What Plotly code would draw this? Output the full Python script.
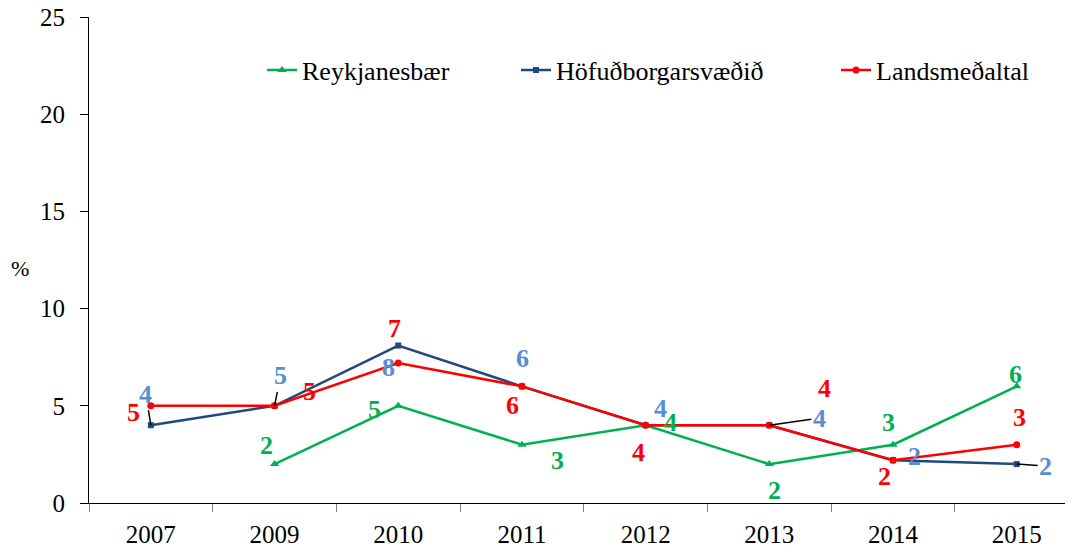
import plotly.graph_objects as go

years = ["2007", "2009", "2010", "2011", "2012", "2013", "2014", "2015"]
reykjanesbaer = [None, 2.0, 5.0, 3.0, 4.0, 2.0, 3.0, 6.0]
hofudborgarsvaedid = [4.0, 5.0, 8.1, 6.0, 4.0, 4.0, 2.2, 2.0]
landsmedaltal = [5.0, 5.0, 7.2, 6.0, 4.0, 4.0, 2.2, 3.0]

FONT = "Liberation Serif"

# label offsets in px from each point: (dx, dy up, leader line)
offsets_green = [None, (-8, 19, False), (-24, -4, False), (36, -16, False), (25, 3, False),
                 (5, -26, False), (-5, 22, False), (-1, 12, False)]
offsets_blue = [(-5, 31, True), (6, 30, True), (-10, -22, False), (1, 28, False), (15, 17, False),
                (50, 7, True), (21, 4, False), (29, -2, True)]
offsets_red = [(-17, -7, False), (35, 14, False), (-4, 35, False), (-9, -19, False), (-7, -27, False),
               (55, 37, False), (-9, -16, False), (3, 27, False)]

series = [
    ("Reykjanesbær", reykjanesbaer, "#00B050", "#00B050", "triangle-up", 8, offsets_green, "legend", 262),
    ("Höfuðborgarsvæðið", hofudborgarsvaedid, "#1F497D", "#558ED5", "square", 6, offsets_blue, "legend2", 516),
    ("Landsmeðaltal", landsmedaltal, "#FF0000", "#FF0000", "circle", 7, offsets_red, "legend3", 836),
]

# the page puts the plot 8px in from the top-left corner
PAGE = 8
W, H = 1073 - PAGE, 549 - PAGE
L, T, B = 89 - PAGE, 17 - PAGE, 46

fig = go.Figure()
annotations = []
for name, vals, color, label_color, symbol, msize, offs, leg, _ in series:
    fig.add_trace(go.Scatter(
        x=years, y=vals, name=name, mode="lines+markers",
        line=dict(color=color, width=2.5),
        marker=dict(symbol=symbol, size=msize, color=color),
        legend=leg, showlegend=True,
    ))
    for i, (v, off) in enumerate(zip(vals, offs)):
        if v is None:
            continue
        dx, dy, leader = off
        ann = dict(x=i, y=v, xref="x", yref="y", text=f"<b>{round(v)}</b>",
                   font=dict(family=FONT, size=26, color=label_color))
        if leader:
            ann.update(showarrow=True, arrowhead=0, arrowwidth=1.5, arrowcolor="black",
                       ax=dx, ay=-dy, standoff=0)
        else:
            ann.update(showarrow=False, xshift=dx, yshift=dy)
        annotations.append(ann)

# "%" beside the y axis
annotations.append(dict(xref="paper", yref="paper", x=(20 - 89) / 984, y=(503 - 268) / 486,
                        xanchor="center", yanchor="middle", text="%", showarrow=False,
                        font=dict(family=FONT, size=22, color="black")))

layout_legends = {}
for name, vals, color, label_color, symbol, msize, offs, leg, lx in series:
    layout_legends[leg] = dict(
        orientation="h", x=(lx - 89) / 984, y=(503 - 70) / 486,
        xanchor="left", yanchor="middle", bgcolor="rgba(0,0,0,0)",
        font=dict(family=FONT, size=26, color="black"),
    )

fig.update_layout(
    width=W, height=H,
    margin=dict(l=L, r=0, t=T, b=B),
    plot_bgcolor="white", paper_bgcolor="white",
    font=dict(family=FONT, size=25, color="black"),
    showlegend=True,
    annotations=annotations,
    **layout_legends,
)
fig.update_xaxes(
    type="category", range=[-0.5, 7.455], tickson="boundaries", ticks="outside", ticklen=8,
    tickcolor="#808080", showline=True, linecolor="black", linewidth=1, showgrid=False,
    ticklabelstandoff=9, automargin=False,
)
fig.update_yaxes(
    range=[0, 25], dtick=5, ticks="outside", ticklen=8, tickcolor="black",
    showline=True, linecolor="black", linewidth=1, showgrid=False, zeroline=False,
    ticklabelstandoff=10, automargin=False, ticklabeloverflow="allow",
)

fig.write_html("out.html")
